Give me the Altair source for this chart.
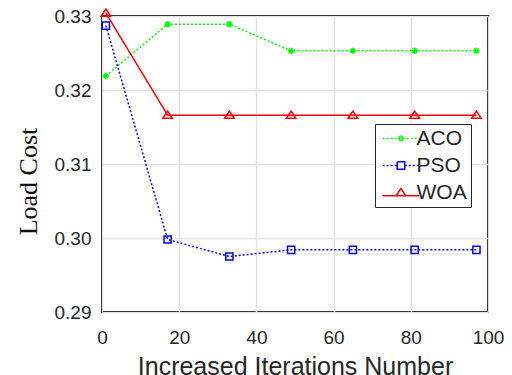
import altair as alt
import pandas as pd

iterations = [1, 17, 33, 49, 65, 81, 97]
aco = [0.3219, 0.3289, 0.3289, 0.3253, 0.3253, 0.3253, 0.3253]
pso = [0.3287, 0.2998, 0.2975, 0.2984, 0.2984, 0.2984, 0.2984]
woa = [0.3304, 0.3166, 0.3166, 0.3166, 0.3166, 0.3166, 0.3166]
series_names = ["ACO", "PSO", "WOA"]
series_colors = ["#00ff00", "#0000ff", "#ff0000"]
series_dashes = [[2, 2], [2, 2], [1, 0]]
x_ticks = [0, 20, 40, 60, 80, 100]
y_ticks = [0.29, 0.30, 0.31, 0.32, 0.33]

# marker shapes (unit paths)
marker_paths = [
    "M-0.8,0H0.8M0,-0.8V0.8M-0.56,-0.56L0.56,0.56M-0.56,0.56L0.56,-0.56",
    "M-0.9,-0.9H0.9V0.9H-0.9Z",
    "M0,-1L1.2,0.8H-1.2Z",
]
# legend symbols: line segment + marker (square drawn twice so dashes fill in)
legend_paths = [
    "M-4.6,0H4.6" + marker_paths[0],
    "M-4.6,0H-0.94M0.94,0H4.6"
    "M-0.9375,-0.9375H0.9375V0.9375H-0.9375V-0.9375H0.9375V0.9375H-0.9375Z",
    "M-4.6,0.8H-1.2M1.2,0.8H4.6" + marker_paths[2],
]
marker_keys = ["m" + n for n in series_names]

rows = []
for name, key, vals in zip(series_names, marker_keys, [aco, pso, woa]):
    for it, v in zip(iterations, vals):
        rows.append({"Iteration": it, "Cost": v, "Algorithm": name, "Marker": key})
df = pd.DataFrame(rows)

all_keys = series_names + marker_keys
color_scale = alt.Scale(domain=all_keys, range=series_colors + series_colors)
shape_scale = alt.Scale(domain=all_keys, range=legend_paths + marker_paths)
dash_scale = alt.Scale(domain=all_keys, range=series_dashes + series_dashes)

legend = alt.Legend(
    title=None,
    values=series_names,
    orient="none",
    legendX=273,
    legendY=108,
    padding=4,
    strokeColor="#262626",
    fillColor="white",
    labelFont="Liberation Sans",
    labelFontSize=21,
    labelColor="#262626",
    symbolSize=64,
    symbolStrokeWidth=1.5,
    symbolOpacity=1,
    symbolFillColor="transparent",
    symbolOffset=11.5,
    labelOffset=5,
    rowPadding=5,
)

x_enc = alt.X(
    "Iteration:Q",
    scale=alt.Scale(domain=[0, 100], nice=False),
    axis=alt.Axis(
        values=x_ticks,
        title="Increased Iterations Number",
        titleFont="Liberation Sans",
        titleFontSize=25,
        titleFontWeight="normal",
        titleColor="#262626",
        titleX=193,
        titleY=62,
        titleBaseline="alphabetic",
        labelPadding=16,
        labelFontSize=19,
        labelFlush=False,
    ),
)
y_enc = alt.Y(
    "Cost:Q",
    scale=alt.Scale(domain=[0.29, 0.33], nice=False, zero=False),
    axis=alt.Axis(
        values=y_ticks,
        format=".2f",
        title="Load Cost",
        titleFont="Liberation Serif",
        titleFontSize=26,
        titleFontWeight="normal",
        titleColor="#111111",
        titleX=-66,
        titleY=165,
        titleAngle=270,
        titleBaseline="alphabetic",
        labelPadding=11,
        labelFontSize=19,
    ),
)

base = alt.Chart(df)

# invisible layer that only feeds the legend
legend_layer = base.mark_point(filled=False, size=64, strokeWidth=1.5, opacity=0).encode(
    x=x_enc,
    y=y_enc,
    color=alt.Color("Algorithm:N", scale=color_scale, legend=legend),
    shape=alt.Shape("Algorithm:N", scale=shape_scale, legend=legend),
    strokeDash=alt.StrokeDash("Algorithm:N", scale=dash_scale, legend=legend),
)

lines = base.mark_line(strokeWidth=1.5).encode(
    x=x_enc,
    y=y_enc,
    color=alt.Color("Marker:N", scale=color_scale, legend=legend),
    strokeDash=alt.StrokeDash("Marker:N", scale=dash_scale, legend=legend),
)

points = base.mark_point(filled=False, size=64, strokeWidth=1.5, opacity=1).encode(
    x=x_enc,
    y=y_enc,
    color=alt.Color("Marker:N", scale=color_scale, legend=legend),
    shape=alt.Shape("Marker:N", scale=shape_scale, legend=legend),
)

chart = (
    alt.layer(legend_layer, lines, points)
    .properties(
        width=386,
        height=296,
        background="white",
        autosize=alt.AutoSizeParams(type="none"),
        padding={"left": 94, "top": 8, "right": 16, "bottom": 66},
    )
    .configure_view(stroke="black", strokeWidth=2)
    .configure_axis(
        domain=False,
        ticks=False,
        tickSize=0,
        grid=True,
        gridColor="#e3e3e3",
        gridWidth=1.5,
        labelFont="Liberation Sans",
        labelColor="#262626",
    )
)

chart.save("out.html", embed_options={"renderer": "svg", "actions": False})
